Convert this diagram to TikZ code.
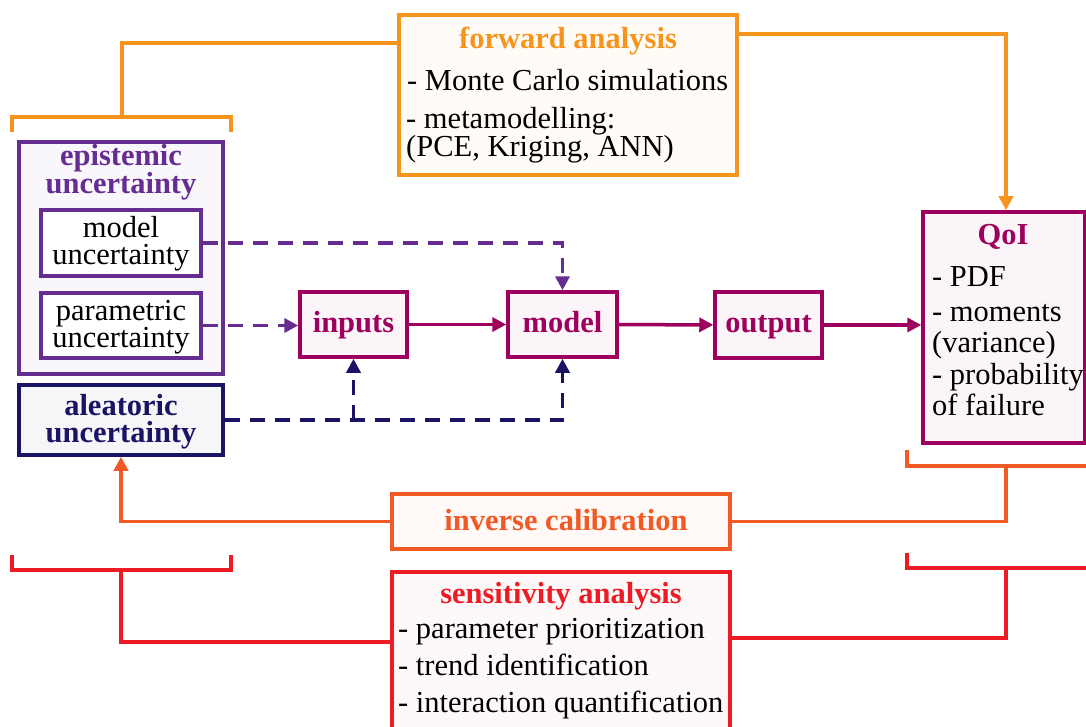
\documentclass[tikz,border=0pt]{standalone}
\usepackage{fontspec}
\setmainfont{Liberation Serif}
\usetikzlibrary{arrows.meta}
\definecolor{cFwd}{RGB}{247,148,29}
\definecolor{cEpi}{RGB}{102,45,145}
\definecolor{cAle}{RGB}{27,20,100}
\definecolor{cMain}{RGB}{158,0,93}
\definecolor{cInv}{RGB}{241,90,36}
\definecolor{cSen}{RGB}{237,28,36}
\tikzset{
  box/.style={draw, line width=3.5pt, inner sep=0pt, minimum width=#1},
  lnk/.style={line width=3.5pt},
  tip/.style={-{Triangle[length=14pt,width=14pt]}},
  dsh/.style={line width=3.5pt, dash pattern=on 15pt off 10pt},
  txt/.style={inner sep=0pt, anchor=base, font=\fontsize{30.5}{27}\selectfont},
  txtl/.style={inner sep=0pt, anchor=base west, font=\fontsize{30.5}{27}\selectfont},
  bld/.style={txt, font=\fontsize{30.5}{26.5}\selectfont\bfseries},
  two/.style={align=center},
  twol/.style={align=left},
  qtwo/.style={align=left, font=\fontsize{30.5}{30.5}\selectfont},
}
\begin{document}
\begin{tikzpicture}[x=1pt,y=-1pt]
\useasboundingbox (0,0) rectangle (1086,727);
% boxes
\node[box=338pt, minimum height=160pt, draw=cFwd, fill=cFwd!3] (fwd) at (568,95) {};
\node[box=204pt, minimum height=232pt, draw=cEpi, fill=cEpi!4] (epi) at (121,258) {};
\node[box=160pt, minimum height=66pt, draw=cEpi, fill=white] (modu) at (121,243) {};
\node[box=160pt, minimum height=65pt, draw=cEpi, fill=white] (paru) at (121,325.5) {};
\node[box=204pt, minimum height=70pt, draw=cAle, fill=cAle!4] (ale) at (121,420) {};
\node[box=107pt, minimum height=65pt, draw=cMain, fill=cMain!4] (inp) at (353.5,324.5) {};
\node[box=109pt, minimum height=65pt, draw=cMain, fill=cMain!4] (mdl) at (562.5,324.5) {};
\node[box=107pt, minimum height=66pt, draw=cMain, fill=cMain!4] (out) at (768.5,325) {};
\node[box=162pt, minimum height=231pt, draw=cMain, fill=cMain!4] (qoi) at (1004,327.5) {};
\node[box=338pt, minimum height=55pt, draw=cInv, fill=cInv!3] (inv) at (561,521.5) {};
\node[box=338pt, minimum height=173pt, draw=cSen, fill=cSen!3] (sen) at (561,658.5) {};
% texts
\node[bld, text=cFwd] (tf) at (568,49) {forward analysis};
\node[txtl] (tf1) at (407,91) {- Monte Carlo simulations};
\node[txtl, twol] (tf2) at (406,157) {- metamodelling:\\(PCE, Kriging, ANN)};
\node[bld, two, text=cEpi] (te) at (121,194) {epistemic\\uncertainty};
\node[txt, two] (tm) at (121,265) {model\\uncertainty};
\node[txt, two] (tp) at (121,347) {parametric\\uncertainty};
\node[bld, two, text=cAle] (ta) at (121,442) {aleatoric\\uncertainty};
\node[bld, text=cMain] (ti) at (353.5,332) {inputs};
\node[bld, text=cMain] (tmo) at (562.5,332) {model};
\node[bld, text=cMain] (to) at (768.5,332) {output};
\node[bld, text=cMain] (tq) at (1003,244) {QoI};
\node[txtl] (tq1) at (932,287) {- PDF};
\node[txtl, qtwo] (tq2) at (932,352) {- moments\\(variance)};
\node[txtl, qtwo] (tq4) at (932,415) {- probability\\of failure};
\node[bld, text=cInv] (tinv) at (566,530) {inverse calibration};
\node[bld, text=cSen] (ts) at (561,603) {sensitivity analysis};
\node[txtl] (ts1) at (398,638) {- parameter prioritization};
\node[txtl] (ts2) at (398,675) {- trend identification};
\node[txtl] (ts3) at (398,712) {- interaction quantification};
% forward analysis links
\coordinate (fL) at (122,43);
\coordinate (fLb) at (122,117);
\coordinate (fR) at (1006,34);
\draw[lnk, cFwd] (12,132) -- (12,117) -- (231,117) -- (231,132);
\draw[lnk, cFwd] (fwd.west |- fL) -- (fL) -- (fLb);
\draw[lnk, cFwd, tip] (fwd.east |- fR) -- (fR) -- (fR |- qoi.north);
% main chain
\draw[lnk, cMain, tip] (inp) -- (mdl);
\draw[lnk, cMain, tip] (mdl) -- (out);
\draw[lnk, cMain, tip] (out.east) -- (out.east -| qoi.west);
% dashed
\draw[dsh, cEpi, tip] (modu.east) -| (mdl.north);
\draw[dsh, cEpi, tip] (paru.east) -- (paru.east -| inp.west);
\draw[dsh, cAle, tip] (ale.east) -| (mdl.south);
\draw[dsh, cAle, tip] (inp.south |- ale.east) -- (inp.south);
% inverse calibration
\coordinate (iR) at (1006,466);
\draw[lnk, cInv, tip] (inv.west) -| (ale.south);
\draw[lnk, cInv] (inv.east) -| (iR);
\draw[lnk, cInv] (907,450) -- (907,466) -- (1090,466);
% sensitivity
\coordinate (sL) at (121,642);
\coordinate (sR) at (1006,638);
\draw[lnk, cSen] (12,555) -- (12,570) -- (231,570) -- (231,555);
\draw[lnk, cSen] (sen.west |- sL) -- (sL) -- (121,570);
\draw[lnk, cSen] (907,553) -- (907,568) -- (1090,568);
\draw[lnk, cSen] (sen.east |- sR) -- (sR) -- (1006,568);
\end{tikzpicture}
\end{document}
